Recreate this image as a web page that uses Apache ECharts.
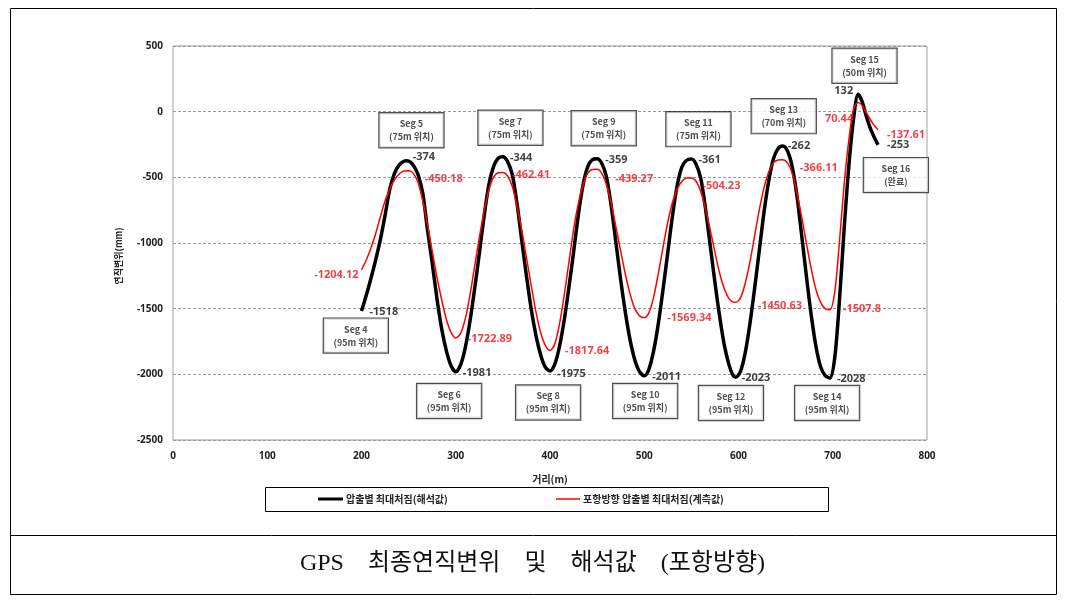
<!DOCTYPE html>
<html><head><meta charset="utf-8">
<script src="https://cdn.jsdelivr.net/npm/echarts@6/dist/echarts.min.js"></script>
<style>html,body{margin:0;padding:0;background:#fff}#c{width:1065px;height:607px}</style>
</head><body><div id="c"></div>
<script>
// ---------------- data ----------------
const seriesNames = ['압출별 최대처짐(해석값)', '포항방향 압출별 최대처짐(계측값)'];
const xTicks = [0, 100, 200, 300, 400, 500, 600, 700, 800];
const yTicks = [-2500, -2000, -1500, -1000, -500, 0, 500];

const distAnalysis = [200,205,210,215,220,225,230,235,240,245,248,252,256,260,265,270,275,280,285,290,295,300,
  305,310,315,320,325,330,335,340,345,350,355,360,365,370,375,380,385,390,395,400,
  405,410,415,420,425,430,435,440,445,450,455,460,465,470,475,480,485,490,495,500,
  505,510,515,520,525,530,535,540,545,550,555,560,565,570,575,580,585,590,594,597,
  602,607,612,617,622,627,632,637,642,647,652,657,662,667,672,677,682,687,692,697,
  702,707,712,717,722,727,731,735,739,743,748];
const dispAnalysis = [-1518,-1400,-1270,-1130,-975,-790,-590,-470,-405,-378,-374,-385,-420,-480,-620,-900,-1150,-1420,-1650,-1820,-1935,-1981,
  -1930,-1800,-1600,-1350,-1080,-800,-560,-420,-355,-344,-380,-480,-700,-980,-1250,-1500,-1700,-1850,-1945,-1975,
  -1925,-1790,-1590,-1340,-1070,-790,-560,-420,-365,-359,-395,-500,-720,-1000,-1280,-1530,-1740,-1890,-1980,-2011,
  -1960,-1820,-1610,-1350,-1070,-790,-560,-420,-370,-361,-400,-510,-740,-1020,-1300,-1560,-1780,-1930,-2005,-2023,
  -1980,-1840,-1620,-1350,-1060,-770,-530,-360,-280,-262,-300,-420,-640,-940,-1250,-1540,-1780,-1940,-2010,-2028,
  -1880,-1450,-900,-420,-60,132,80,-20,-110,-180,-253];

const distMeasured = [200,205,210,215,220,225,230,235,240,245,250,255,260,265,270,275,280,285,290,295,300,
  305,310,315,320,325,330,335,340,345,350,355,360,365,370,375,380,385,390,395,400,
  405,410,415,420,425,430,435,440,445,450,455,460,465,470,475,480,485,490,495,500,
  505,510,515,520,525,530,535,540,545,550,555,560,565,570,575,580,585,590,594,597,
  602,607,612,617,622,627,632,637,642,647,652,657,662,667,672,677,682,687,692,697,
  702,707,712,717,722,727,731,735,739,743,748];
const dispMeasured = [-1204.12,-1130,-1040,-930,-800,-680,-590,-520,-475,-452,-450.18,-470,-540,-680,-860,-1060,-1260,-1430,-1580,-1680,-1722.89,
  -1690,-1580,-1400,-1180,-960,-760,-600,-500,-465,-462.41,-490,-570,-720,-900,-1110,-1320,-1520,-1680,-1780,-1817.64,
  -1770,-1620,-1400,-1150,-900,-700,-560,-470,-440,-439.27,-470,-560,-700,-880,-1060,-1240,-1390,-1500,-1555,-1569.34,
  -1530,-1410,-1230,-1030,-840,-690,-590,-530,-505,-504.23,-530,-610,-740,-900,-1070,-1230,-1350,-1425,-1448,-1450.63,
  -1420,-1310,-1150,-950,-750,-580,-460,-390,-368,-366.11,-390,-470,-620,-800,-1000,-1190,-1350,-1450,-1500,-1507.8,
  -1380,-1000,-560,-220,20,70.44,50,0,-50,-95,-137.61];

// labelled extreme values
const analysisMarks = [[200,-1518],[248,-374],[300,-1981],[350,-344],[400,-1975],[450,-359],[500,-2011],[550,-361],[597,-2023],[647,-262],[697,-2028],[727,132],[748,-253]];
const measuredMarks = [[200,-1204.12],[250,-450.18],[300,-1722.89],[350,-462.41],[400,-1817.64],[450,-439.27],[500,-1569.34],[550,-504.23],[597,-1450.63],[647,-366.11],[697,-1507.8],[727,70.44],[748,-137.61]];

// segment annotation boxes
const segNames = ['Seg 4','Seg 5','Seg 6','Seg 7','Seg 8','Seg 9','Seg 10','Seg 11','Seg 12','Seg 13','Seg 14','Seg 15','Seg 16'];
const segNotes = ['(95m 위치)','(75m 위치)','(95m 위치)','(75m 위치)','(95m 위치)','(75m 위치)','(95m 위치)','(75m 위치)','(95m 위치)','(70m 위치)','(95m 위치)','(50m 위치)','(완료)'];

const captionText = 'GPS\u3000최종연직변위\u3000및\u3000해석값\u3000(포항방향)';
const xName = '거리(m)';
const yName = '연직변위(mm)';

// ---------------- layout (not data) ----------------
const analysisOffsets = [[8,1,'left'],[6,-4,'left'],[7,1,'left'],[7,1,'left'],[7,3,'left'],[8,1,'left'],[8,1,'left'],[7,1,'left'],[6,1,'left'],[5,0,'left'],[7,1,'left'],[-5,-3,'right'],[9,0,'left']];
const measuredOffsets = [[-3,5,'right'],[16,8,'left'],[12,1,'left'],[9,2,'left'],[15,0,'left'],[18,10,'left'],[23,0,'left'],[11,8,'left'],[22,4,'left'],[17,8,'left'],[13,-1,'left'],[-5,16,'right'],[9,5,'left']];
const segAnchors = [[194,-1705],[253,-141],[293,-2203],[358,-122],[398,-2215],[457,-126],[501,-2203],[557.5,-133],[592,-2218],[648,-34],[694,-2218],[733.7,350],[767,-483]];

const zip = (a, b) => a.map((v, i) => [v, b[i]]);
const numFont = '"Noto Sans", "DejaVu Sans", sans-serif';
const krFont = '"Noto Sans CJK KR", "Noto Sans", sans-serif';

function markItems(marks, offs, color) {
  return marks.map((m, i) => ({
    value: m,
    label: {
      show: true,
      position: [offs[i][0], offs[i][1]],
      align: offs[i][2],
      verticalAlign: 'middle',
      formatter: String(m[1]),
      color: color,
      fontSize: 11,
      fontWeight: 'bold',
      fontFamily: numFont
    }
  }));
}

const chart = echarts.init(document.getElementById('c'), null, {renderer: 'canvas'});
chart.setOption({
  animation: false,
  backgroundColor: '#fff',
  grid: {left: 173, right: 138, top: 46, bottom: 167, show: true, borderColor: '#a0a0a0', borderWidth: 1, containLabel: false},
  xAxis: {
    type: 'value', min: xTicks[0], max: xTicks[xTicks.length - 1], interval: 100,
    name: xName, nameLocation: 'middle', nameGap: 34,
    nameTextStyle: {fontSize: 10, fontWeight: 'bold', fontFamily: krFont, color: '#222'},
    axisLine: {show: false}, axisTick: {show: false}, splitLine: {show: false},
    axisLabel: {fontSize: 10, fontWeight: 'bold', fontFamily: numFont, color: '#222', margin: 11, formatter: v => String(v)}
  },
  yAxis: {
    type: 'value', min: yTicks[0], max: yTicks[yTicks.length - 1], interval: 500,
    name: yName, nameLocation: 'middle', nameGap: 50, nameRotate: 90,
    nameTextStyle: {fontSize: 9, fontWeight: 'bold', fontFamily: krFont, color: '#222', padding: [0, 0, 0, -26]},
    axisLine: {show: false}, axisTick: {show: false},
    splitLine: {show: true, lineStyle: {color: '#9a9a9a', type: [3, 2], width: 1}},
    axisLabel: {fontSize: 10, fontWeight: 'bold', fontFamily: numFont, color: '#222', margin: 10, formatter: v => String(v)}
  },
  legend: [
    {data: [{name: seriesNames[0], icon: 'rect'}], left: 318, top: 494, padding: 0, itemWidth: 25, itemHeight: 3, itemGap: 0,
     textStyle: {fontSize: 10, fontWeight: 'bold', fontFamily: krFont, color: '#222', padding: [0,0,0,-2]}},
    {data: [{name: seriesNames[1], icon: 'rect'}], left: 556, top: 494, padding: 0, itemWidth: 24, itemHeight: 1.5, itemGap: 0,
     textStyle: {fontSize: 10, fontWeight: 'bold', fontFamily: krFont, color: '#222', padding: [0,0,0,-2]}}
  ],
  graphic: [
    {type: 'rect', z: -10, shape: {x: 10.5, y: 8.5, width: 1046, height: 586}, style: {fill: 'none', stroke: '#000', lineWidth: 1}},
    {type: 'line', z: -10, shape: {x1: 10, y1: 535.5, x2: 1057, y2: 535.5}, style: {stroke: '#000', lineWidth: 1}},
    {type: 'rect', z: -10, shape: {x: 265.5, y: 487.5, width: 563, height: 24}, style: {fill: 'none', stroke: '#000', lineWidth: 1}},
    {type: 'text', left: 'center', top: 552, style: {text: captionText, font: '24px "Liberation Serif", "Noto Sans CJK KR", serif', fill: '#111'}}
  ],
  series: [
    {name: seriesNames[0], type: 'line', data: zip(distAnalysis, dispAnalysis), symbol: 'none', showSymbol: false, smooth: 0.3,
     lineStyle: {color: '#000', width: 3.5}, itemStyle: {color: '#000'}, z: 3},
    {name: seriesNames[1], type: 'line', data: zip(distMeasured, dispMeasured), symbol: 'none', showSymbol: false, smooth: 0.3,
     lineStyle: {color: '#ff0000', width: 1.5}, itemStyle: {color: '#ff0000'}, z: 4},
    {type: 'scatter', symbolSize: 0, silent: true, z: 6, data: markItems(analysisMarks, analysisOffsets, '#111')},
    {type: 'scatter', symbolSize: 0, silent: true, z: 6, data: markItems(measuredMarks, measuredOffsets, '#e8141b')},
    {type: 'scatter', symbolSize: 0, silent: true, z: 8,
     data: segAnchors.map((a, i) => ({value: a})),
     label: {
       show: true, position: 'inside',
       formatter: p => segNames[p.dataIndex] + '\n' + segNotes[p.dataIndex],
       fontSize: 9, fontWeight: 'bold', fontFamily: krFont, color: '#222', lineHeight: 13,
       backgroundColor: '#fff', borderColor: '#222', borderWidth: 1.2, padding: [4, 6], width: 52, align: 'center'
     }}
  ]
});
</script></body></html>
